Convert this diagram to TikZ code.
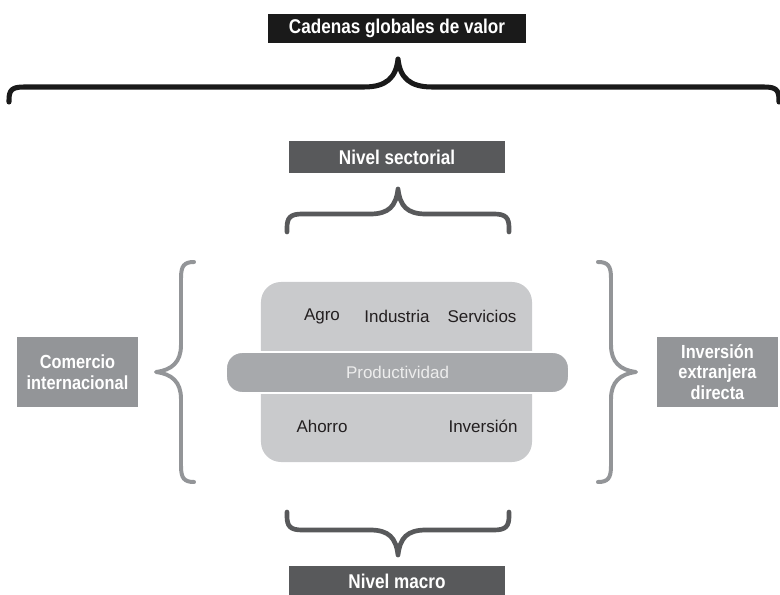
\documentclass[tikz,border=0pt]{standalone}
\usepackage{fontspec}
\setmainfont{Liberation Sans}
\newfontfamily\condfont{Liberation Sans}[FakeStretch=0.86]
\definecolor{titleblack}{HTML}{1A1A1A}
\definecolor{darkgrey}{HTML}{58595B}
\definecolor{midgrey}{HTML}{939598}
\definecolor{lightgrey}{HTML}{C9CACC}
\definecolor{bargrey}{HTML}{A7A9AC}
\definecolor{inktext}{HTML}{231F20}
\begin{document}
\begin{tikzpicture}[x=0.03cm,y=-0.03cm,
  headbox/.style={rectangle,inner sep=0pt,text=white,
    font=\condfont\bfseries\fontsize{17}{19}\selectfont},
  sidebox/.style={rectangle,inner sep=0pt,fill=midgrey,text=white,align=center,
    minimum width=3.63cm,minimum height=2.1cm,
    font=\condfont\bfseries\fontsize{16.2}{17.5}\selectfont},
  sector/.style={font=\fontsize{14.5}{16}\selectfont,text=inktext},
  bigbrace/.style={line width=4.3pt,titleblack,line cap=round,line join=round},
  levelbrace/.style={line width=4pt,darkgrey,line cap=round,line join=round},
  sidebrace/.style={line width=3.4pt,midgrey,line cap=round,line join=round}]
\useasboundingbox (0,0) rectangle (780,595);

% headings
\node[headbox,fill=titleblack,minimum width=7.74cm,minimum height=0.87cm] (cgv) at (397,28.5) {Cadenas globales de valor};
\node[headbox,fill=darkgrey,minimum width=6.48cm,minimum height=0.96cm] (sect) at (397,157) {Nivel sectorial};
\node[headbox,fill=darkgrey,minimum width=6.48cm,minimum height=0.9cm] (macro) at (397,581) {Nivel macro};

% side labels
\node[sidebox] (comercio) at (77.5,372) {Comercio\\internacional};
\node[sidebox] (ied) at (717.5,372) {Inversión\\extranjera\\directa};

% central block
\node[rectangle,fill=lightgrey,rounded corners=0.6cm,minimum width=8.13cm,minimum height=5.4cm,inner sep=0pt] (core) at (396.5,372) {};
\node[rectangle,fill=bargrey,draw=white,line width=1.7pt,rounded corners=0.48cm,
  minimum width=10.29cm,minimum height=1.23cm,inner sep=0pt,
  text=white!93!black,font=\fontsize{14.5}{16}\selectfont] (prod) at (397.5,372.5) {Productividad};

\node[sector] (agro) at (322,316) {Agro};
\node[sector] (ind) at (397,316) {Industria};
\node[sector] (serv) at (482,316) {Servicios};
\node[sector] (ahorro) at (322,426) {Ahorro};
\node[sector] (inv) at (483,426) {Inversión};

% braces
\draw[bigbrace] (9,102) -- (9,100) .. controls (9,90) and (12,87) .. (24,87)
  -- (364,87) .. controls (386,87) and (396,78) .. (398,59)
  .. controls (400,78) and (410,87) .. (432,87)
  -- (764,87) .. controls (776,87) and (779,90) .. (779,100) -- (779,102);

\draw[levelbrace] (287,232) -- (287,228) .. controls (287,218) and (290,214) .. (302,214)
  -- (370,214) .. controls (389,214) and (396,206) .. (398,189)
  .. controls (400,206) and (407,214) .. (426,214)
  -- (494,214) .. controls (506,214) and (509,218) .. (509,228) -- (509,232);

\draw[levelbrace] (287,512) -- (287,516) .. controls (287,526) and (290,530) .. (302,530)
  -- (370,530) .. controls (389,530) and (396,538) .. (398,555)
  .. controls (400,538) and (407,530) .. (426,530)
  -- (494,530) .. controls (506,530) and (509,526) .. (509,516) -- (509,512);

\draw[sidebrace] (194,262) .. controls (184,262) and (181,266) .. (181,278)
  -- (181,345) .. controls (181,362) and (172,370) .. (156,372)
  .. controls (172,374) and (181,382) .. (181,399)
  -- (181,466) .. controls (181,478) and (184,482) .. (194,482);

\draw[sidebrace] (598,262) .. controls (608,262) and (611,266) .. (611,278)
  -- (611,345) .. controls (611,362) and (620,370) .. (636,372)
  .. controls (620,374) and (611,382) .. (611,399)
  -- (611,466) .. controls (611,478) and (608,482) .. (598,482);
\end{tikzpicture}
\end{document}
